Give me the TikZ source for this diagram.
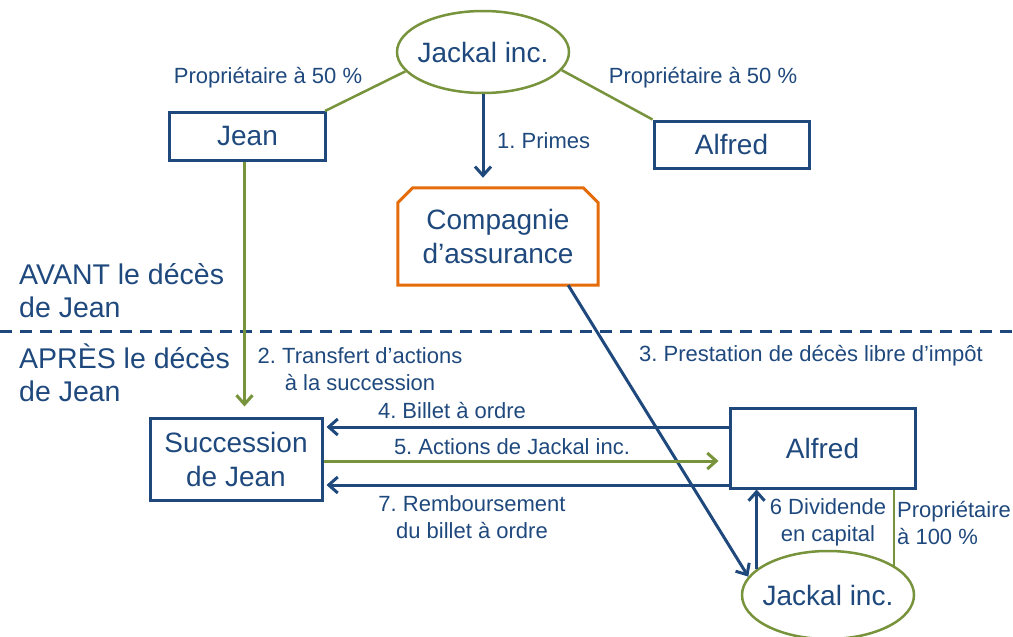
\documentclass[tikz,border=0pt]{standalone}
\usepackage{fontspec}
\setmainfont{Liberation Sans}
\frenchspacing
\usetikzlibrary{shapes.geometric,arrows.meta,calc}
\definecolor{cblue}{RGB}{31,73,125}
\definecolor{cgreen}{RGB}{119,147,60}
\definecolor{corange}{RGB}{228,108,10}
\begin{document}
\begin{tikzpicture}[x=1pt,y=-1pt,
  big/.style={font=\fontsize{28}{34}\selectfont, text=cblue, align=center},
  side/.style={font=\fontsize{28.5}{33}\selectfont, text=cblue, align=left, inner sep=0},
  lbl/.style={font=\fontsize{22}{27}\selectfont, text=cblue, inner sep=0},
  box/.style={draw=cblue, line width=3pt, inner sep=0, big},
  oval/.style={ellipse, draw=cgreen, line width=2.5pt, inner sep=0},
  barrow/.style={draw=cblue, line width=3pt, -{Straight Barb[length=9pt,width=16pt]}},
  garrow/.style={draw=cgreen, line width=3pt, -{Straight Barb[length=9pt,width=16pt]}},
  gline/.style={draw=cgreen, line width=2.5pt},
  sep/.style={draw=cblue, line width=3pt, dash pattern=on 12pt off 8pt}]
\useasboundingbox (0,0) rectangle (1013,637);

% nodes
\node[oval, minimum width=172, minimum height=82, label={[big]center:Jackal inc.}] (jt) at (483,52) {};
\node[box, minimum width=156, minimum height=48] (jean) at (247.5,136.5) {Jean};
\node[box, minimum width=155, minimum height=47] (alft) at (731.5,144.5) {Alfred};
\node[big, minimum width=200, minimum height=97, inner sep=0] (comp) at (498,236.5) {Compagnie\\d’assurance};
\draw[draw=corange, line width=3pt] (comp.south west) -- ([yshift=-15pt]comp.north west) -- ([xshift=15pt]comp.north west) -- ([xshift=-15pt]comp.north east) -- ([yshift=-15pt]comp.north east) -- (comp.south east) -- cycle;
\node[box, minimum width=172, minimum height=82] (succ) at (236,459) {Succession\\de Jean};
\node[box, minimum width=185, minimum height=80] (alfb) at (822.5,448) {Alfred};
\node[oval, minimum width=172, minimum height=88, label={[big]center:Jackal inc.}] (jb) at (828,595) {};

% side labels and separator
\node[side, anchor=west] (avant) at (19,291) {AVANT le décès\\de Jean};
\node[side, anchor=west] (apres) at (19,373) {APRÈS le décès\\de Jean};
\draw[sep] (0,331) -- (1013,331);

% connectors
\draw[gline] (jt.194) -- ([xshift=-2pt]jean.north east);
\draw[gline] (jt.-13) -- (alft.north west);
\draw[barrow, shorten >=10pt] (jt.south) -- (jt.south |- comp.north);
\draw[garrow, shorten >=10pt] ([xshift=-3pt]jean.south) -- ([xshift=-3pt]jean.south |- succ.north);
\draw[barrow] ([xshift=-30pt]comp.south east) -- (jb.167);
\draw[barrow] ([yshift=21pt]alfb.west) -- ([yshift=32pt,xshift=3pt]succ.east);
\draw[garrow] ([yshift=-2pt]succ.east) -- ([yshift=-13pt,xshift=-10pt]alfb.west);
\draw[barrow] ([yshift=-37pt]alfb.west) -- ([yshift=-26pt,xshift=3pt]succ.east);
\draw[barrow] (jb.160) -- (jb.160 |- alfb.south);
\draw[gline] (jb.24 |- alfb.south) -- (jb.24);

% labels
\node[lbl] (l50a) at (268,78) {Propriétaire à 50 \%};
\node[lbl] (l50b) at (703,78) {Propriétaire à 50 \%};
\node[lbl, anchor=west] (l1) at (497,141) {1. Primes};
\node[lbl, align=center] (l2) at (360,369) {2. Transfert d’actions\\à la succession};
\node[lbl] (l3) at (811,356) {3. Prestation de décès libre d’impôt};
\node[lbl] (l4) at (452,411) {4. Billet à ordre};
\node[lbl] (l5) at (512,447) {5. Actions de Jackal inc.};
\node[lbl, align=center] (l7) at (472,517) {7. Remboursement\\du billet à ordre};
\node[lbl, align=center] (l6) at (828,522) {6 Dividende\\en capital};
\node[lbl, align=left, anchor=west] (l100) at (897,523) {Propriétaire\\à 100 \%};
\end{tikzpicture}
\end{document}
